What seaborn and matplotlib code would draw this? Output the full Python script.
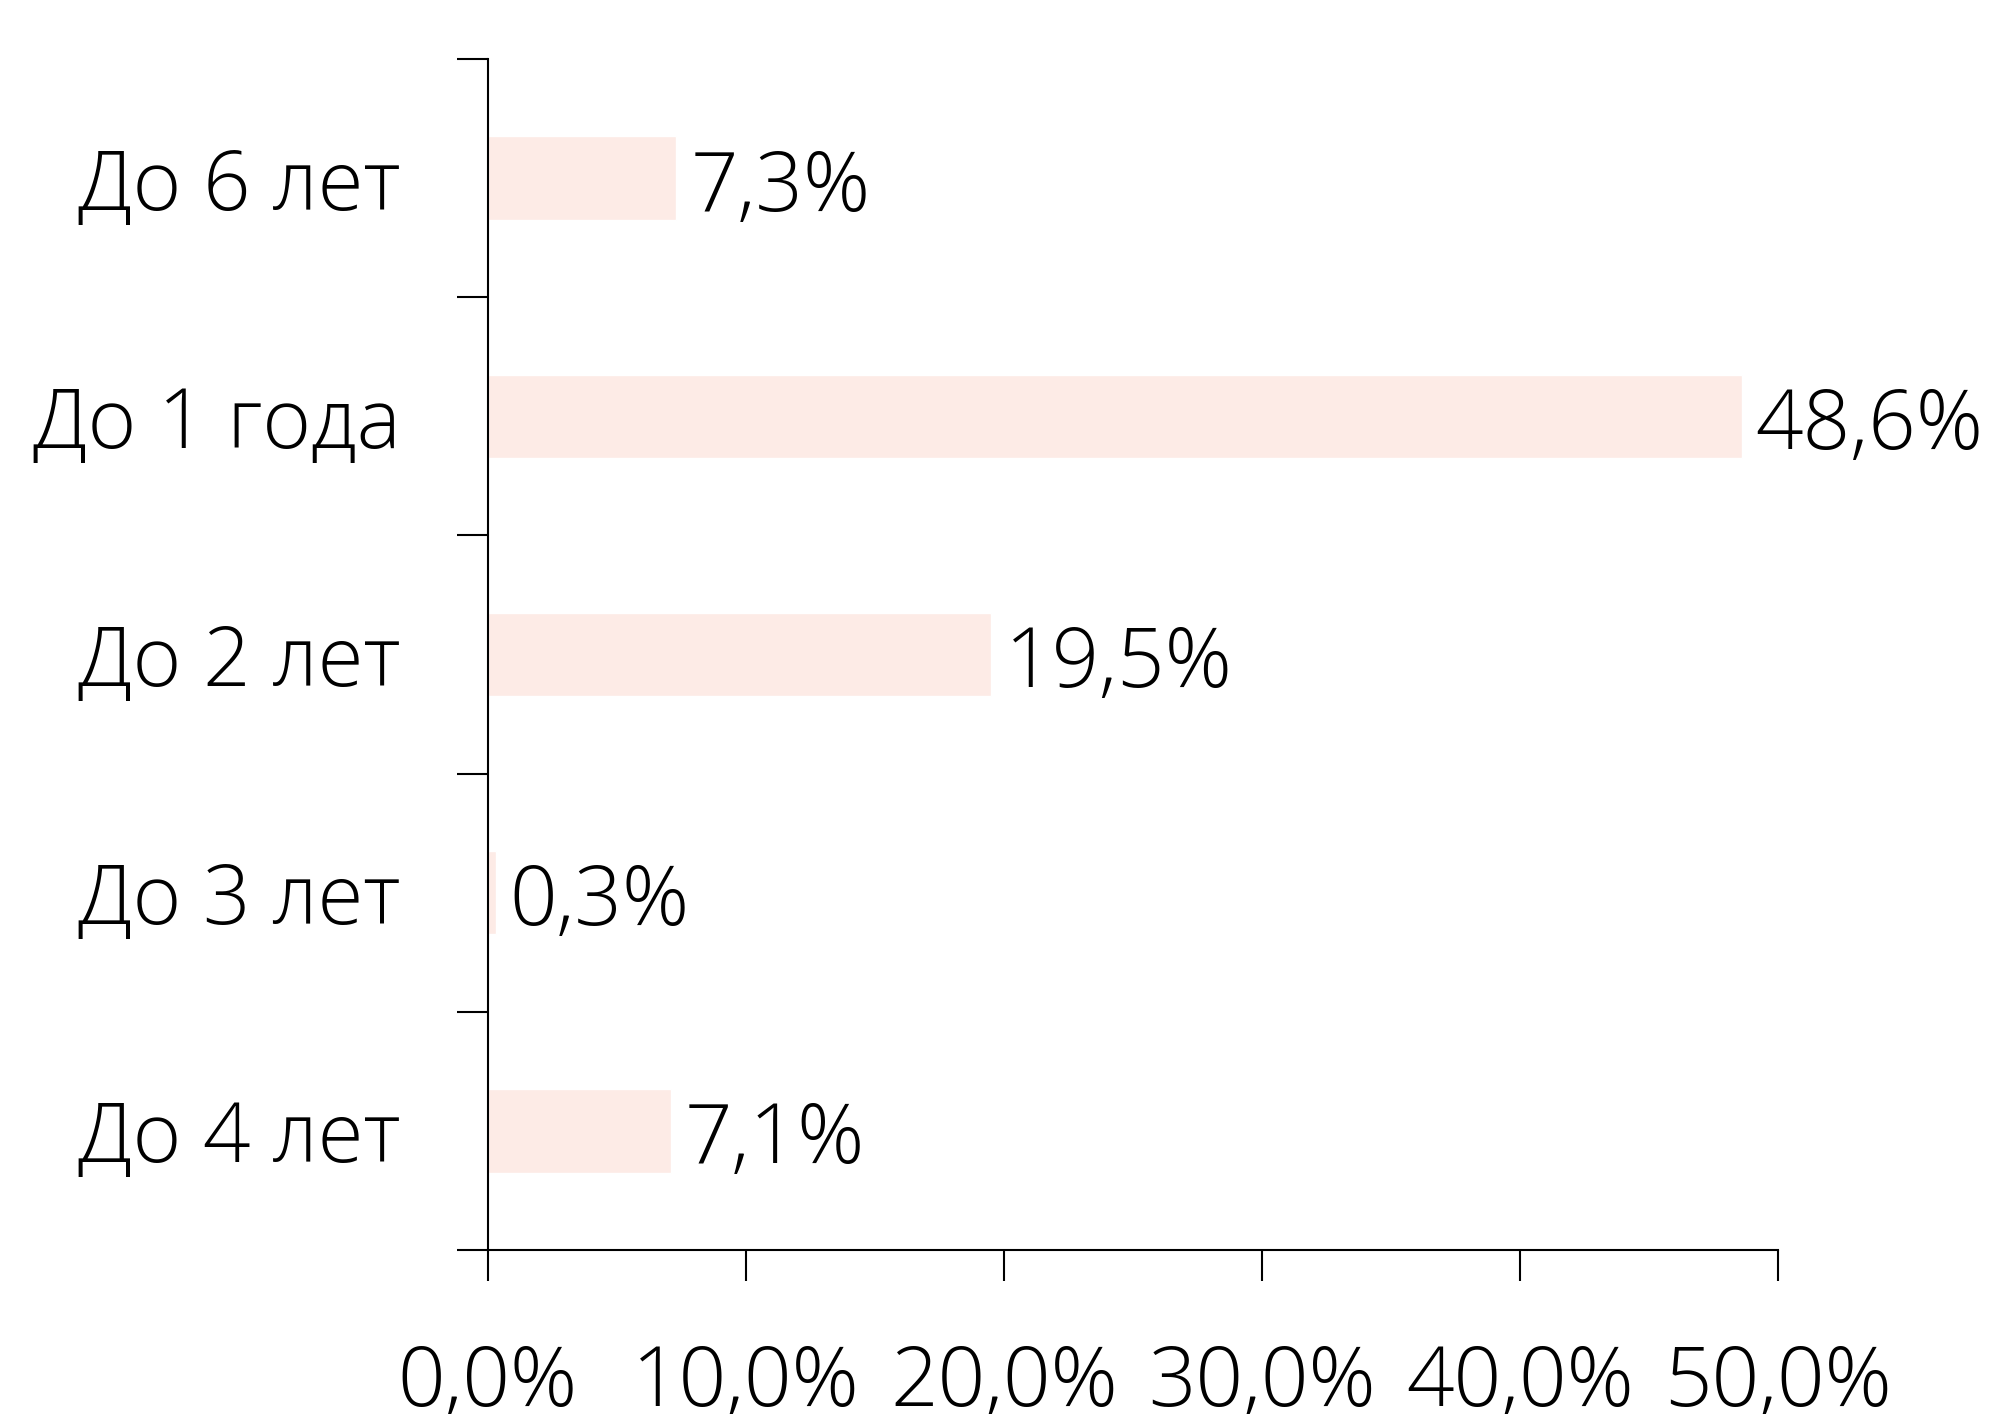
import matplotlib
matplotlib.use('Agg')

import matplotlib.pyplot as plt
import pandas as pd
import seaborn as sns

categories = ['До 6 лет', 'До 1 года', 'До 2 лет', 'До 3 лет', 'До 4 лет']
shares = [7.3, 48.6, 19.5, 0.3, 7.1]
xticks = [0, 10, 20, 30, 40, 50]


def pct(v):
    return '{:.1f}%'.format(v).replace('.', ',')


def main():
    sns.set_theme(style='white')
    plt.rcParams['font.family'] = ['Open Sans', 'DejaVu Sans']
    plt.rcParams['font.weight'] = 'light'
    plt.rcParams['text.color'] = 'black'
    plt.rcParams['xtick.color'] = 'black'
    plt.rcParams['ytick.color'] = 'black'

    df = pd.DataFrame({'cat': categories, 'share': shares})

    fig = plt.figure(figsize = (19.91, 14.14), dpi = 100)
    ax = fig.add_axes([0.2451, 0.116, 0.8930 - 0.2451, 0.9583 - 0.116])

    sns.barplot(data = df, x = 'share', y = 'cat', orient = 'h', color = '#fdebe6',
                width = 0.35, saturation = 1, ax = ax)

    ax.set_xlim(0, 50)
    ax.set_ylim(4.5, -0.5)
    ax.set_xlabel('')
    ax.set_ylabel('')

    for s in ('top', 'right'):
        ax.spines[s].set_visible(False)
    for s in ('left', 'bottom'):
        ax.spines[s].set_linewidth(1.5)
        ax.spines[s].set_color('black')

    ax.set_xticks(xticks)
    ax.set_xticklabels([pct(v) for v in xticks], fontsize = 60, color = 'black')
    ax.tick_params(axis = 'x', direction = 'out', length = 22, width = 1.5,
                   color = 'black', pad = 45, bottom = True)

    ax.set_yticks(range(len(categories)))
    ax.set_yticklabels(categories, fontsize = 60, color = 'black')
    ax.tick_params(axis = 'y', which = 'major', length = 0, pad = 63)
    ax.set_yticks([i - 0.5 for i in range(len(categories) + 1)], minor = True)
    ax.tick_params(axis = 'y', which = 'minor', direction = 'out', length = 22,
                   width = 1.5, color = 'black', left = True)

    texts = ax.bar_label(ax.containers[0], labels = [pct(v) for v in shares],
                         padding = 10, fontsize = 60, color = 'black')
    # labels sit a little below the bar centre in the original
    for t in texts:
        t.xyann = (10, -8)

    fig.savefig('out.png', dpi = 100)
    plt.close(fig)


if __name__ == '__main__':
    main()
